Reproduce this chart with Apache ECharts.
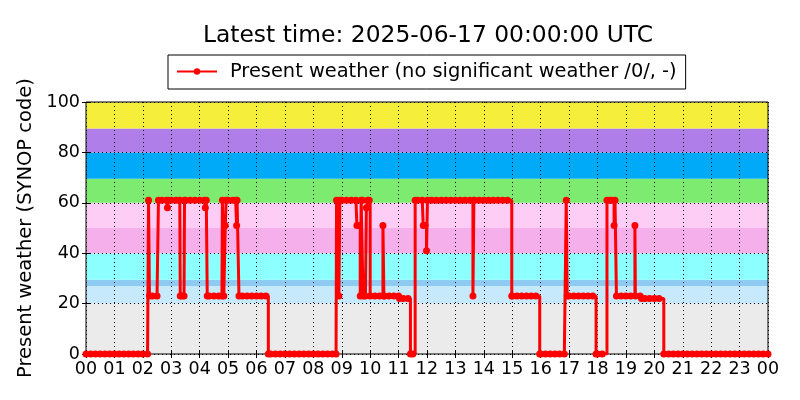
<!DOCTYPE html>
<html>
<head>
<meta charset="utf-8">
<script src="https://cdn.jsdelivr.net/npm/echarts@6/dist/echarts.min.js"></script>
<style>
html,body{margin:0;padding:0;background:#fff;}
#chart{width:800px;height:400px;}
</style>
</head>
<body>
<div id="chart"></div>
<script>
const titleText = "Latest time: 2025-06-17 00:00:00 UTC";
const seriesName = "Present weather (no significant weather /0/, -)";
const yAxisName = "Present weather (SYNOP code)";

const times = [
 "00:00","00:10","00:20","00:30","00:40","00:50",
 "01:00","01:10","01:20","01:30","01:40","01:50",
 "02:00","02:10","02:12","02:14","02:20","02:30","02:33","02:40","02:50","02:52","02:54",
 "03:00","03:10","03:18","03:19","03:23","03:27","03:28","03:30","03:40","03:50",
 "04:00","04:10","04:12","04:14","04:16","04:20","04:30","04:40","04:47","04:48","04:51","04:54","04:56",
 "05:00","05:10","05:16","05:18","05:19","05:23","05:30","05:40","05:50",
 "06:00","06:10","06:20","06:25","06:30","06:40","06:50",
 "07:00","07:10","07:20","07:30","07:40","07:50",
 "08:00","08:10","08:20","08:30","08:40","08:48","08:49","08:54","08:56",
 "09:00","09:10","09:20","09:30","09:32","09:36","09:39","09:41","09:44","09:45","09:50","09:52","09:55","09:58",
 "10:00","10:10","10:20","10:27","10:29","10:30","10:40","10:50",
 "11:00","11:02","11:10","11:20","11:25","11:30","11:35","11:40","11:50","11:52","11:56","11:59",
 "12:01","12:10","12:20","12:30","12:40","12:50",
 "13:00","13:10","13:20","13:30","13:37","13:39","13:40","13:50",
 "14:00","14:10","14:20","14:30","14:40","14:50","14:59",
 "15:00","15:10","15:20","15:30","15:40","15:50","15:58",
 "16:00","16:10","16:20","16:30","16:40","16:50","16:54","16:56",
 "17:00","17:10","17:20","17:30","17:40","17:50","17:57",
 "18:00","18:10","18:20","18:25","18:30","18:35","18:37","18:40","18:50",
 "19:00","19:10","19:19","19:20","19:30","19:33","19:40","19:50",
 "20:00","20:10","20:20","20:30","20:40","20:50",
 "21:00","21:10","21:20","21:30","21:40","21:50",
 "22:00","22:10","22:20","22:30","22:40","22:50",
 "23:00","23:10","23:20","23:30","23:40","23:50",
 "24:00"
];
const codes = [
 0,0,0,0,0,0,
 0,0,0,0,0,0,
 0,0,61,23,23,23,61,61,61,58,61,
 61,61,61,23,23,23,61,61,61,61,
 61,61,58,61,23,23,23,23,23,61,23,51,61,
 61,61,61,51,61,23,23,23,23,
 23,23,23,0,0,0,0,
 0,0,0,0,0,0,
 0,0,0,0,0,0,61,23,61,
 61,61,61,61,51,51,23,61,61,23,23,58,61,61,
 23,23,23,51,23,23,23,23,
 23,22,22,22,0,0,61,61,61,51,51,41,
 61,61,61,61,61,61,
 61,61,61,61,23,61,61,61,
 61,61,61,61,61,61,23,
 23,23,23,23,23,23,0,
 0,0,0,0,0,0,61,23,
 23,23,23,23,23,23,0,
 0,0,61,61,61,51,61,23,23,
 23,23,51,23,23,22,22,22,
 22,22,0,0,0,0,
 0,0,0,0,0,0,
 0,0,0,0,0,0,
 0,0,0,0,0,0,
 0
];

// background code bands (lower, upper)
const bandLower = [0, 20, 27, 29.5, 40, 50, 60, 69.5, 80, 89.5];
const bandUpper = [20, 27, 29.5, 40, 50, 60, 69.5, 80, 89.5, 100];
const bandColors = ["#ebebeb","#c6eafc","#8ecbf3","#8cffff","#f5b0ec","#fecdf6","#7deb70","#00aaf8","#b07ee8","#f5ef3b"];

function toHours(s){ const p = s.split(":"); return (+p[0]) + (+p[1])/60; }
const seriesData = times.map((t,i)=>[toHours(t), codes[i]]);

const font = "DejaVu Sans";
const tickStyle = {show:true, inside:true, length:4, lineStyle:{color:'#000'}};
const dotted = {show:true, lineStyle:{color:'#000', type:[1,3], width:1}};
const chart = echarts.init(document.getElementById('chart'), null, {renderer:'canvas'});
chart.setOption({
  animation:false,
  textStyle:{fontFamily:font},
  title:{
    text:titleText, left:423, top:19, textAlign:'center',
    textStyle:{fontFamily:font, fontSize:23.4, fontWeight:'normal', color:'#000'}
  },
  legend:{
    data:[seriesName], left:168, top:55,
    padding:[7,9,8,8],
    borderColor:'#000', borderWidth:1, borderRadius:0,
    itemWidth:40, itemHeight:8,
    textStyle:{fontFamily:font, fontSize:19.4, color:'#000', padding:[0,0,0,8]}
  },
  grid:{left:86, right:32, top:102, bottom:46, show:true, z:4,
        borderColor:'#000', borderWidth:1, backgroundColor:'transparent'},
  xAxis:[{
    type:'value', min:0, max:24, interval:1, z:3,
    axisLine:{show:false},
    axisTick:tickStyle,
    axisLabel:{fontFamily:font, fontSize:17.5, color:'#000', margin:6,
      formatter:v=>String(v%24).padStart(2,'0')},
    splitLine:dotted
  },{
    type:'value', min:0, max:24, interval:1, z:3, position:'top',
    axisLine:{show:false}, axisTick:tickStyle,
    axisLabel:{show:false}, splitLine:{show:false}
  }],
  yAxis:[{
    type:'value', min:0, max:100, interval:20, z:3,
    name:yAxisName, nameLocation:'middle', nameGap:46,
    nameTextStyle:{fontFamily:font, fontSize:19.5, color:'#000'},
    axisLine:{show:false},
    axisTick:tickStyle,
    axisLabel:{fontFamily:font, fontSize:17.5, color:'#000', margin:6},
    splitLine:dotted
  },{
    type:'value', min:0, max:100, interval:20, z:3, position:'right',
    axisLine:{show:false}, axisTick:tickStyle,
    axisLabel:{show:false}, splitLine:{show:false}
  }],
  series:[
    {
      name:'bands', type:'line', data:[], z:1, silent:true,
      markArea:{
        silent:true,
        data: bandLower.map((lo,i)=>[
          {xAxis:0, yAxis:lo, itemStyle:{color:bandColors[i], opacity:1}},
          {xAxis:24, yAxis:bandUpper[i]}
        ])
      }
    },
    {
      name:seriesName, type:'line', data:seriesData, z:5,
      step:'end', showAllSymbol:true,
      symbol:'circle', symbolSize:7,
      itemStyle:{color:'#ff0000'},
      lineStyle:{color:'#ff0000', width:3}
    }
  ]
});
</script>
</body>
</html>
